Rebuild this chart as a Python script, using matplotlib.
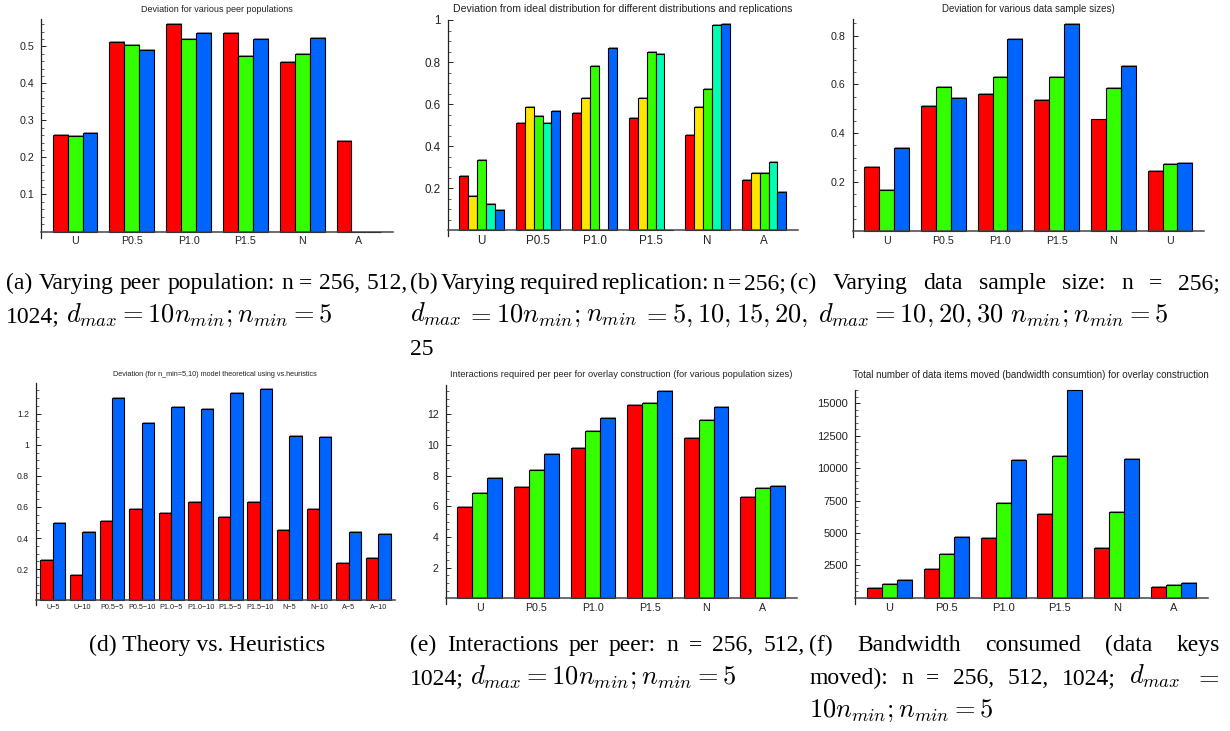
import matplotlib
matplotlib.use("Agg")
import matplotlib.pyplot as plt
import matplotlib.patheffects as pe
import numpy as np
from matplotlib.ticker import FixedLocator, FuncFormatter

W, H = 1230, 731
plt.rcParams["font.family"] = ["Liberation Sans", "DejaVu Sans"]
plt.rcParams["mathtext.fontset"] = "cm"

RED, YELLOW, GREEN, AQUA, BLUE = "#ff0000", "#ffe600", "#33ff00", "#00ffb3", "#0064ff"
AXIS_COLOR = "#222222"

# ---------------- data ----------------
groups = ["U", "P0.5", "P1.0", "P1.5", "N", "A"]
groups_sample = ["U", "P0.5", "P1.0", "P1.5", "N", "U"]

# (a) deviation for peer populations n = 256, 512, 1024
pop_256 = [0.261, 0.511, 0.560, 0.537, 0.457, 0.244]
pop_512 = [0.258, 0.504, 0.521, 0.475, 0.480, 0.0]
pop_1024 = [0.265, 0.490, 0.537, 0.521, 0.523, 0.0]

# (b) deviation for required replication n_min = 5, 10, 15, 20, 25
rep_5 = [0.260, 0.509, 0.556, 0.535, 0.453, 0.241]
rep_10 = [0.162, 0.585, 0.631, 0.631, 0.585, 0.271]
rep_15 = [0.336, 0.542, 0.783, 0.846, 0.672, 0.274]
rep_20 = [0.126, 0.509, 0.0, 0.837, 0.975, 0.327]
rep_25 = [0.099, 0.569, 0.869, 0.0, 0.979, 0.181]

# (c) deviation for data sample sizes d_max = 10, 20, 30 n_min
sample_10 = [0.260, 0.511, 0.560, 0.537, 0.456, 0.243]
sample_20 = [0.166, 0.589, 0.632, 0.632, 0.586, 0.273]
sample_30 = [0.338, 0.544, 0.786, 0.849, 0.675, 0.277]

# (d) theory vs heuristics
cases = ["U\u22125", "U\u221210", "P0.5\u22125", "P0.5\u221210", "P1.0\u22125", "P1.0\u221210",
         "P1.5\u22125", "P1.5\u221210", "N\u22125", "N\u221210", "A\u22125", "A\u221210"]
theory = [0.260, 0.163, 0.511, 0.588, 0.560, 0.631, 0.536, 0.631, 0.455, 0.586, 0.243, 0.270]
heuristic = [0.496, 0.442, 1.300, 1.139, 1.242, 1.230, 1.333, 1.358, 1.054, 1.049, 0.438, 0.427]

# (e) interactions per peer, n = 256, 512, 1024
inter_256 = [5.98, 7.28, 9.78, 12.59, 10.46, 6.59]
inter_512 = [6.87, 8.37, 10.93, 12.72, 11.65, 7.17]
inter_1024 = [7.87, 9.39, 11.76, 13.52, 12.46, 7.35]

# (f) data items moved, n = 256, 512, 1024
moved_256 = [772, 2212, 4578, 6456, 3858, 823]
moved_512 = [1029, 3344, 7279, 10905, 6610, 952]
moved_1024 = [1337, 4655, 10622, 15998, 10674, 1106]

fig = plt.figure(figsize=(W / 100, H / 100), dpi=100)
renderer = fig.canvas.get_renderer()
bar_shadow = [pe.SimplePatchShadow(offset=(0.7, 0.7), shadow_rgbFace="0.55", alpha=0.9),
              pe.Normal()]


def make_axes(left, top, right, zero_y, ymax, ext=6):
    """Axes whose y=0 line sits at pixel row zero_y, with the y axis
    running a few pixels below the category axis."""
    bottom = zero_y + ext
    ax = fig.add_axes([left / W, 1 - bottom / H, (right - left) / W, (bottom - top) / H])
    per_px = ymax / (zero_y - top)
    ax.set_ylim(-ext * per_px, ymax)
    for s in ("top", "right"):
        ax.spines[s].set_visible(False)
    ax.spines["bottom"].set_position(("data", 0))
    ax.spines["left"].set_color(AXIS_COLOR)
    ax.spines["left"].set_linewidth(0.9)
    ax.spines["bottom"].set_color("#444444")
    ax.spines["bottom"].set_linewidth(1.1)
    ax.spines["bottom"].set_zorder(3)
    ax.patch.set_visible(False)
    return ax


def style_y(ax, major, minor, ymax, fs):
    majors = np.arange(major, ymax + 1e-9, major)
    minors = [v for v in np.arange(minor, ymax + 1e-9, minor)
              if np.min(np.abs(majors - v)) > minor * 0.1]
    ax.yaxis.set_major_locator(FixedLocator(majors))
    ax.yaxis.set_minor_locator(FixedLocator(minors))
    ax.yaxis.set_major_formatter(FuncFormatter(lambda v, p: "%g" % round(v, 6)))
    ax.tick_params(axis="y", which="major", direction="in", length=3.4, width=0.7,
                   color=AXIS_COLOR, labelsize=fs, labelcolor=AXIS_COLOR, pad=5)
    ax.tick_params(axis="y", which="minor", direction="in", length=1.9, width=0.5,
                   color=AXIS_COLOR)


def grouped_bars(ax, labels, series, colors, group_width, fs, xpad=-0.6, pad=3.5):
    n = len(series)
    w = group_width / n
    x = np.arange(len(labels))
    for i, (vals, c) in enumerate(zip(series, colors)):
        bars = ax.bar(x - group_width / 2 + w * (i + 0.5), vals, w, color=c,
                      edgecolor="black", linewidth=0.8, zorder=2)
        for b in bars:
            b.set_path_effects(bar_shadow)
    ax.set_xticks(x)
    ax.set_xticklabels(labels)
    ax.tick_params(axis="x", length=0, labelsize=fs, labelcolor=AXIS_COLOR, pad=pad)
    ax.set_xlim(xpad, len(labels) - 1 - xpad)


def title(text, cx, cy, width_px):
    """Chart title centred at (cx, cy), sized to span width_px."""
    t = fig.text(cx / W, 1 - cy / H, text, ha="center", va="center", fontsize=10,
                 color=AXIS_COLOR)
    w = t.get_window_extent(renderer).width
    t.set_fontsize(10 * width_px / w)


# (a)
ax = make_axes(41, 19, 393, 231.5, 0.574)
grouped_bars(ax, groups, [pop_256, pop_512, pop_1024], [RED, GREEN, BLUE], 0.79, 7.7)
style_y(ax, 0.1, 0.02, 0.574, 7.7)
title("Deviation for various peer populations", 217, 9, 152)

# (b)
ax = make_axes(447.7, 20, 798, 230.4, 1.0)
grouped_bars(ax, groups, [rep_5, rep_10, rep_15, rep_20, rep_25],
             [RED, YELLOW, GREEN, AQUA, BLUE], 0.79, 8.4)
style_y(ax, 0.2, 0.05, 1.0, 8.4)
title("Deviation from ideal distribution for different distributions and replications",
      623, 9, 338)

# (c)
ax = make_axes(852.7, 19, 1204, 230.7, 0.868)
grouped_bars(ax, groups_sample, [sample_10, sample_20, sample_30], [RED, GREEN, BLUE], 0.79, 7.7)
style_y(ax, 0.2, 0.05, 0.868, 7.7)
title("Deviation for various data sample sizes)", 1028, 9, 173)

# (d)
ax = make_axes(36, 383, 395, 600.3, 1.397, ext=5)
grouped_bars(ax, cases, [theory, heuristic], [RED, BLUE], 0.84, 5.2, xpad=-0.57, pad=3)
style_y(ax, 0.2, 0.05, 1.397, 6.2)
title("Deviation (for n_min=5,10) model theoretical using vs.heuristics", 215, 375, 205)

# (e)
ax = make_axes(445.7, 385, 796.7, 598.3, 13.9)
grouped_bars(ax, groups, [inter_256, inter_512, inter_1024], [RED, GREEN, BLUE], 0.79, 7.7)
style_y(ax, 2, 0.5, 13.9, 7.7)
title("Interactions required per peer for overlay construction (for various population sizes)",
      621, 375, 343)

# (f)
ax = make_axes(855, 389.5, 1208, 597.7, 16075)
grouped_bars(ax, groups, [moved_256, moved_512, moved_1024], [RED, GREEN, BLUE], 0.79, 8.0)
style_y(ax, 2500, 500, 16075, 8.0)
title("Total number of data items moved (bandwidth consumtion) for overlay construction",
      1031, 375, 358)

# ---------------- captions ----------------
CAP_FS = 17     # roman caption text
MATH_FS = 19    # inline formulas
SPACE_PX = CAP_FS * 0.25 * 100 / 72


def cap_text(x, y, s, ha="left"):
    fs = MATH_FS if s.startswith("$") else CAP_FS
    return fig.text(x / W, 1 - y / H, s, ha=ha, va="baseline", fontsize=fs,
                    family="Liberation Serif", color="black")


def cap_line(x0, y, tokens, x1=None):
    """Caption line from x0; justified out to x1 when given."""
    items = [cap_text(0, y, tok) for tok in tokens]
    widths = [t.get_window_extent(renderer).width for t in items]
    if x1 is None or len(tokens) == 1:
        gap = SPACE_PX
    else:
        gap = (x1 - x0 - sum(widths)) / (len(tokens) - 1)
    x = x0
    for t, w in zip(items, widths):
        t.set_x(x / W)
        x += w + gap


math_tail = r"$d_{max}=10n_{min}; n_{min}=5$"

cap_line(6, 289, "(a) Varying peer population: n = 256, 512,".split(), 408)
cap_line(6, 322, ["1024;", math_tail])
cap_line(410, 289, "(b) Varying required replication: n = 256;".split(), 786)
cap_line(410, 322, [r"$d_{max}$", "$=$", r"$10n_{min};$", r"$n_{min}$", "$=$",
                    "$5,$", "$10,$", "$15,$", "$20,$"], 808)
cap_line(410, 355, ["25"])
cap_line(790, 289, "(c) Varying data sample size: n = 256;".split(), 1220)
cap_line(818, 322, [r"$d_{max}=10, 20, 30\ n_{min}; n_{min}=5$"])

cap_text(207, 651, "(d) Theory vs. Heuristics", ha="center")
cap_line(410, 651, "(e) Interactions per peer: n = 256, 512,".split(), 805)
cap_line(410, 684, ["1024;", math_tail])
cap_line(809, 651, "(f) Bandwidth consumed (data keys".split(), 1220)
cap_line(809, 684, ["moved):", "n", "=", "256,", "512,", "1024;", r"$d_{max}$", "$=$"], 1220)
cap_line(809, 717, [r"$10n_{min}; n_{min}=5$"])

fig.savefig("out.png", dpi=100)
